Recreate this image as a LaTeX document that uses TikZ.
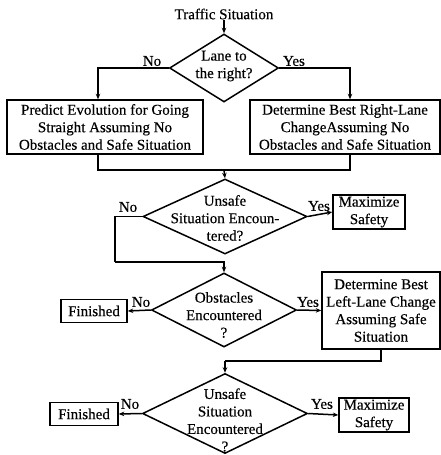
\documentclass[tikz,border=0pt]{standalone}
\usepackage{fontspec}
\setmainfont{Liberation Serif}[FakeBold=0.35]
\usetikzlibrary{shapes.geometric,arrows.meta}
\begin{document}
\begin{tikzpicture}[x=1pt,y=-1pt,
 every node/.style={font=\fontsize{15}{17.5}\selectfont},
 box/.style={draw,line width=1.5pt,inner sep=0pt,align=center},
 dia/.style={draw,diamond,line width=1.5pt,inner sep=0pt},
 txt/.style={align=center,inner sep=0pt},
 lbl/.style={inner sep=0pt},
 arr/.style={line width=1.5pt,-{Stealth[length=5.5pt,width=4.5pt]}},
 ln/.style={line width=1.5pt}]
\useasboundingbox (0,0) rectangle (441,455);
% start
\node[txt] (ts) at (224,14) {Traffic Situation};
% decision 1
\node[dia,minimum width=109pt,minimum height=68pt] (d1) at (224,68) {};
\node[txt] (d1t) at (224,66) {Lane to\\the right?};
% boxes
\node[box,minimum width=196pt,minimum height=54pt] (b1) at (105,127)
  {Predict Evolution for Going\\Straight Assuming No\\Obstacles and Safe Situation};
\node[box,minimum width=190pt,minimum height=54pt] (b2) at (345,127)
  {Determine Best Right-Lane\\ChangeAssuming No\\Obstacles and Safe Situation};
\coordinate (cl) at (98,0);
\coordinate (cr) at (350,0);
\coordinate (m) at (224,170);
% decision 2
\node[dia,minimum width=164pt,minimum height=75pt] (d2) at (225,216.5) {};
\node[txt] (d2t) at (225,218) {Unsafe\\Situation Encoun-\\tered?};
\node[box,minimum width=72pt,minimum height=34pt] (ms1) at (369,212) {Maximize\\Safety};
\coordinate (k2) at (115,262);
% decision 3
\node[dia,minimum width=145pt,minimum height=74pt] (d3) at (224,310) {};
\node[txt] (d3t) at (224,315) {Obstacles\\Encountered\\?};
\node[box,minimum width=66pt,minimum height=23pt] (f1) at (94,311) {Finished};
\node[box,minimum width=118pt,minimum height=77pt] (b3) at (381,310.5)
  {Determine Best\\Left-Lane Change\\Assuming Safe\\Situation};
\coordinate (k3) at (225,361);
% decision 4
\node[dia,minimum width=165pt,minimum height=80pt] (d4) at (225,413.5) {};
\node[txt] (d4t) at (225,420) {Unsafe\\Situation\\Encountered\\?};
\node[box,minimum width=68pt,minimum height=23pt] (f2) at (84,414) {Finished};
\node[box,minimum width=70pt,minimum height=34pt] (ms2) at (374,415) {Maximize\\Safety};
% labels
\node[lbl] (l1n) at (152,61) {No};
\node[lbl] (l1y) at (294,61) {Yes};
\node[lbl] (l2n) at (128,207) {No};
\node[lbl] (l2y) at (319,206) {Yes};
\node[lbl] (l3n) at (141,302) {No};
\node[lbl] (l3y) at (308,302) {Yes};
\node[lbl] (l4n) at (130,404) {No};
\node[lbl] (l4y) at (322,404) {Yes};
% connectors
\draw[arr] (ts) -- (d1.north);
\draw[arr] (d1.west) -| (b1.north -| cl);
\draw[arr] (d1.east) -| (b2.north -| cr);
\draw[ln] (b1.south -| cl) |- (m);
\draw[ln] (b2.south -| cr) |- (m);
\draw[arr] (m) -- (d2.north);
\draw[arr] (d2.east) -- (ms1.west);
\draw[ln] (d2.west) -| (k2);
\draw[arr] (k2) -| (d3.north);
\draw[arr] (d3.west) -- (f1.east);
\draw[arr] (d3.east) -- (b3.west);
\draw[ln] (b3.south) |- (k3);
\draw[arr] (k3) -- (d4.north);
\draw[arr] (d4.west) -- (f2.east);
\draw[arr] (d4.east) -- (ms2.west);
\end{tikzpicture}
\end{document}
